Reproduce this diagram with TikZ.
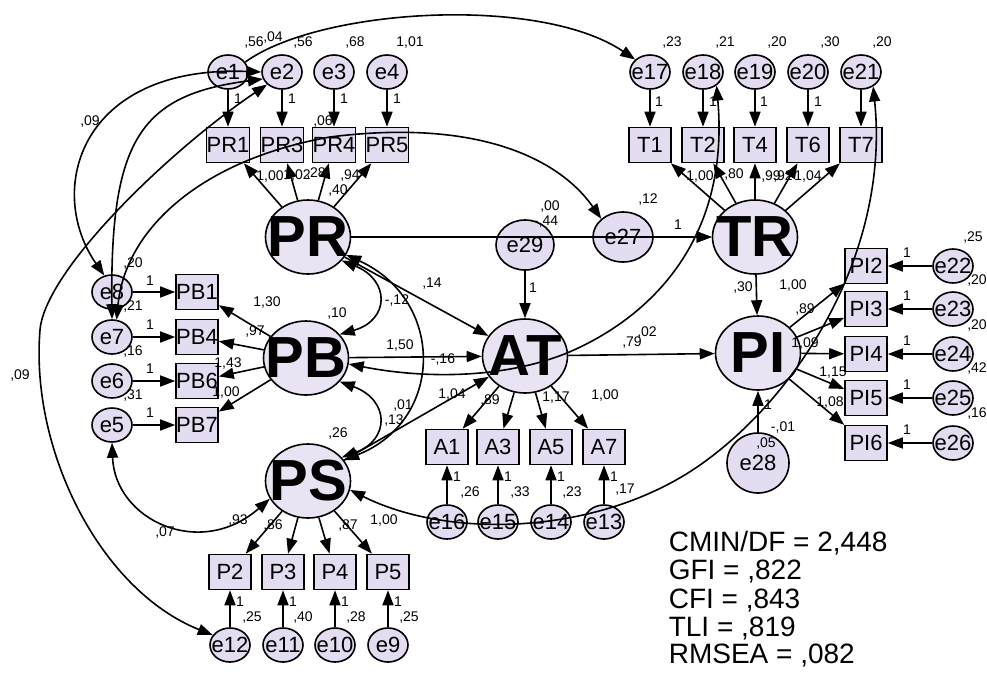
\documentclass[tikz,border=0pt]{standalone}
\usepackage{fontspec}
\setmainfont{Liberation Sans}
\usetikzlibrary{arrows.meta,shapes.geometric}
\definecolor{lav}{RGB}{228,220,240}
\definecolor{lavlat}{RGB}{233,227,243}

\begin{document}
\begin{tikzpicture}[x=1pt,y=-1pt,line width=1.6pt,>={Triangle[length=15pt,width=11pt]}]
   \tikzset{err/.style={draw,ellipse,fill=lav,minimum width=40pt,minimum height=34pt,inner sep=0pt,label={[font=\fontsize{22}{22}\selectfont]center:#1}},
   obs/.style={draw,rectangle,fill=lav,minimum width=42pt,minimum height=35pt,inner sep=0pt,font=\fontsize{22}{22}\selectfont},
   lat/.style={draw,ellipse,fill=lavlat,minimum width=85pt,minimum height=74pt,inner sep=0pt,label={[font=\fontsize{58}{58}\selectfont\bfseries]center:#1}},
   num/.style={font=\fontsize{14}{14}\selectfont,inner sep=0pt},
   fit/.style={anchor=west,font=\fontsize{28}{28}\selectfont,inner sep=0pt}};

\useasboundingbox (0,0) rectangle (987,673);

%latent-----------------
\node[lat=PR] (PR) at (308,237) {};
\node[lat=PB] (PB) at (306,358) {};
\node[lat=PS] (PS) at (308,481) {};
\node[lat=AT] (AT) at (525,356) {};
\node[lat=TR] (TR) at (755,237) {};
\node[lat=PI] (PI) at (758,353) {};

\node[err=e29,minimum width=58pt,minimum height=50pt] (e29) at (525,245) {};
\node[err=e27,minimum width=60pt,minimum height=50pt] (e27) at (623,237) {};
\node[err=e28,minimum width=62pt,minimum height=60pt] (e28) at (758,463) {};

%indicators-------------
\foreach \n/\m/\x in {1/1/228,2/3/282,3/4/334,4/5/387}{
    \node[err={e\n}] (e\n) at (\x,72) {};
    \node[obs] (PR\m) at (\x,145) {PR\m};}

\foreach \n/\m/\x in {17/1/650,18/2/703,19/4/755,20/6/808,21/7/861}{
    \node[err={e\n}] (e\n) at (\x,72) {};
    \node[obs] (T\m) at (\x,145) {T\m};}

\foreach \n/\m/\y in {8/1/292,7/4/337,6/6/381,5/7/425}{
    \node[err={e\n}] (e\n) at (112,\y) {};
    \node[obs] (PB\m) at (197,\y) {PB\m};}

\foreach \n/\m/\x in {12/2/230,11/3/283,10/4/335,9/5/388}{
    \node[obs] (P\m) at (\x,572) {P\m};
    \node[err={e\n}] (e\n) at (\x,645) {};}

\foreach \n/\m/\x in {16/1/447,15/3/498,14/5/551,13/7/604}{
    \node[obs] (A\m) at (\x,447) {A\m};
    \node[err={e\n}] (e\n) at (\x,522) {};}

\foreach \n/\m/\y in {22/2/266,23/3/309,24/4/354,25/5/398,26/6/443}{
    \node[obs] (PI\m) at (866,\y) {PI\m};
    \node[err={e\n}] (e\n) at (953,\y) {};}

%El-----------------------
\foreach \a/\b in {e1/PR1,e2/PR3,e3/PR4,e4/PR5,e17/T1,e18/T2,e19/T4,e20/T6,e21/T7,
    e8/PB1,e7/PB4,e6/PB6,e5/PB7,e12/P2,e11/P3,e10/P4,e9/P5,
    e16/A1,e15/A3,e14/A5,e13/A7,e22/PI2,e23/PI3,e24/PI4,e25/PI5,e26/PI6}{
    \draw[->] (\a) -- (\b);
}

\foreach \a/\b in {PR/PR1,PR/PR3,PR/PR4,PR/PR5,TR/T1,TR/T2,TR/T4,TR/T6,TR/T7,
    PB/PB1,PB/PB4,PB/PB6,PB/PB7,PS/P2,PS/P3,PS/P4,PS/P5,
    AT/A1,AT/A3,AT/A5,AT/A7,PI/PI2,PI/PI3,PI/PI4,PI/PI5,PI/PI6}{
    \draw[->] (\a) -- (\b);
}

%Es-----------------------
\foreach \a/\b in {PR/AT,PB/AT,PS/AT,PR/TR,e27/TR,e29/AT,TR/PI,AT/PI,e28/PI}{
    \draw[->] (\a) -- (\b);
}

%Ec-----------------------
\draw[->] (e1.30) .. controls (320,8) and (540,-5) .. (e17.140);
\draw[<->] (e8.115) .. controls (45,190) and (80,65) .. (e2.west);
\draw[<->] (e7.north) .. controls (110,140) and (140,95) .. (e2.200);
\draw[<->] (e12.150) .. controls (100,590) and (30,450) .. (40,330)
    .. controls (45,270) and (170,150) .. (e2.220);
\draw[<->] (e7.75) .. controls (125,230) and (200,160) .. (330,137)
    .. controls (480,118) and (560,160) .. (e27.140);
\draw[<->] (e5.south) .. controls (115,520) and (200,560) .. (PS.205);
\draw[<->] (PR.-35) .. controls (390,280) and (390,320) .. (PB.35);
\draw[<->] (PB.-35) .. controls (390,400) and (390,440) .. (PS.35);
\draw[<->] (PR.-25) .. controls (445,300) and (445,420) .. (PS.30);
\draw[<->] (PB.-8) .. controls (420,378) and (500,380) .. (567,353)
    .. controls (650,318) and (730,240) .. (e18.-45);
\draw[<->] (PS.-12) .. controls (450,540) and (600,535) .. (700,465)
    .. controls (800,395) and (890,250) .. (e21.-50);

%numbers-------------------
\foreach \t/\x/\y [count=\i] in {{,56}/254/43,{,04}/273/38,{,56}/303/43,{,68}/355/43,{1,01}/410/43,
    1/238/99,1/292/99,1/344/99,1/397/99,{,09}/90/122,{,06}/323/122,
    {1,00}/270/177,{1,02}/297/176,{,28}/316/174,{,94}/350/176,{,40}/338/191,
    {,20}/133/263,{,21}/133/306,{,16}/133/351,{,31}/133/395,
    1/150/281,1/150/325,1/150/369,1/150/413,
    {1,30}/267/302,{,97}/255/331,{1,43}/228/363,{1,00}/226/392,
    {,10}/337/313,{-,12}/397/300,{,14}/432/284,{1,50}/400/345,{-,16}/443/359,
    {,01}/403/405,{,13}/394/420,{,26}/338/433,{,09}/20/375,
    {,07}/165/532,{,93}/238/520,{,86}/273/525,{,87}/348/525,{1,00}/384/520,
    1/240/602,1/293/602,1/345/602,1/398/602,
    {,25}/252/617,{,40}/303/617,{,28}/356/617,{,25}/409/617,
    {,00}/550/207,{-,44}/546/222,1/533/288,{,12}/648/200,1/678/225,
    {1,04}/452/394,{,89}/490/400,{1,17}/556/398,{1,00}/605/395,
    1/457/477,1/508/477,1/561/477,1/614/477,
    {,26}/470/492,{,33}/520/492,{,23}/572/492,{,17}/625/490,
    {,23}/672/43,{,21}/725/43,{,20}/777/43,{,30}/830/43,{,20}/882/43,
    1/659/102,1/713/102,1/764/102,1/818/102,
    {1,00}/700/177,{,80}/734/175,{,99}/771/177,{,92}/783/177,{1,04}/808/177,
    {,30}/743/287,{,79}/632/342,{,02}/647/332,
    {1,00}/793/285,{,89}/805/309,{1,09}/805/343,{1,15}/833/373,{1,08}/830/402,
    1/907/253,1/907/296,1/907/341,1/907/385,1/907/430,
    {,25}/973/238,{,20}/977/280,{,20}/977/325,{,42}/977/368,{,16}/977/413,
    1/768/405,{-,01}/783/427,{,05}/766/443}{
    \node[num] (n\i) at (\x,\y) {\t};
}

%fit-----------------------
\node[fit] (fit1) at (668,543) {CMIN/DF = 2,448};
\node[fit] (fit2) at (668,572) {GFI = ,822};
\node[fit] (fit3) at (668,601) {CFI = ,843};
\node[fit] (fit4) at (668,629) {TLI = ,819};
\node[fit] (fit5) at (668,656) {RMSEA = ,082};

\end{tikzpicture}
\end{document}
